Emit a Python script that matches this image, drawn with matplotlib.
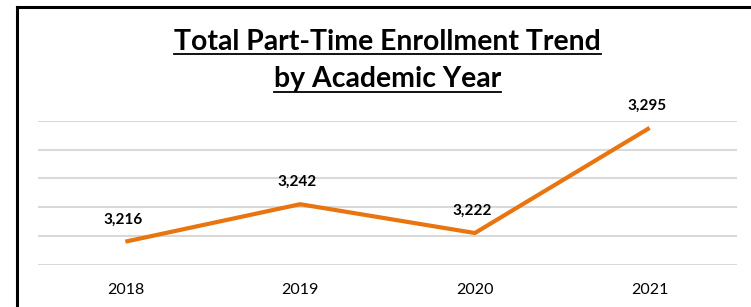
import matplotlib
matplotlib.use("Agg")
import matplotlib.pyplot as plt
from matplotlib.lines import Line2D

# data
years = ["2018", "2019", "2020", "2021"]
enrollment = [3216, 3242, 3222, 3295]
y_ticks = [3200, 3220, 3240, 3260, 3280, 3300]
title_lines = ["Total Part-Time Enrollment Trend", "by Academic Year"]

W, H = 751, 307
plt.rcParams['font.family'] = ['Lato', 'DejaVu Sans']

fig = plt.figure(figsize=(W / 100, H / 100), dpi=100)
fig.patch.set_facecolor('white')

# plot area in pixel terms -> figure fractions
left, right, top, bottom = 38, 737, 120.7, 264.7
ax = fig.add_axes([left / W, 1 - bottom / H, (right - left) / W, (bottom - top) / H])

x = list(range(len(years)))
ax.plot(x, enrollment, color='#E8750F', lw=3, solid_capstyle='butt', zorder=3)
for xi, v in zip(x, enrollment):
    ax.annotate(f"{v:,}", (xi, v), xytext=(-2, 11), textcoords='offset points',
                ha='center', va='bottom', fontsize=11, fontweight='bold', color='black')

ax.set_xlim(-0.5, len(years) - 0.5)
ax.set_ylim(y_ticks[0], y_ticks[-1])
ax.set_yticks(y_ticks)
ax.yaxis.grid(True, color='#D9D9D9', lw=1.5)
ax.set_axisbelow(True)
ax.set_xticks(x)
ax.set_xticklabels(years, fontsize=11.5)
ax.tick_params(axis='x', length=0, pad=13)
ax.tick_params(axis='y', length=0, labelleft=False)
for s in ax.spines.values():
    s.set_visible(False)
ax.patch.set_alpha(0)

# chart border (only top and left visible within crop)
fig.add_artist(Line2D([16.5 / W, 16.5 / W], [0, 1 - 7 / H], color='black', lw=2.2,
                      transform=fig.transFigure))
fig.add_artist(Line2D([16.5 / W, 1], [1 - 7 / H, 1 - 7 / H], color='black', lw=2.2,
                      transform=fig.transFigure))

# title, underlined
cx = (left + right) / 2 / W
baselines = [50, 86.7]
underlines = [54.3, 91.7]
fig.canvas.draw()
r = fig.canvas.get_renderer()
for line, b, u in zip(title_lines, baselines, underlines):
    t = fig.text(cx, 1 - b / H, line, ha='center', va='baseline', fontsize=20.4,
                 fontweight='bold', color='black')
    bb = t.get_window_extent(renderer=r)
    fig.add_artist(Line2D([bb.x0 / W, bb.x1 / W], [1 - u / H, 1 - u / H], color='black',
                          lw=1.3, transform=fig.transFigure))

fig.savefig("out.png", dpi=100)
